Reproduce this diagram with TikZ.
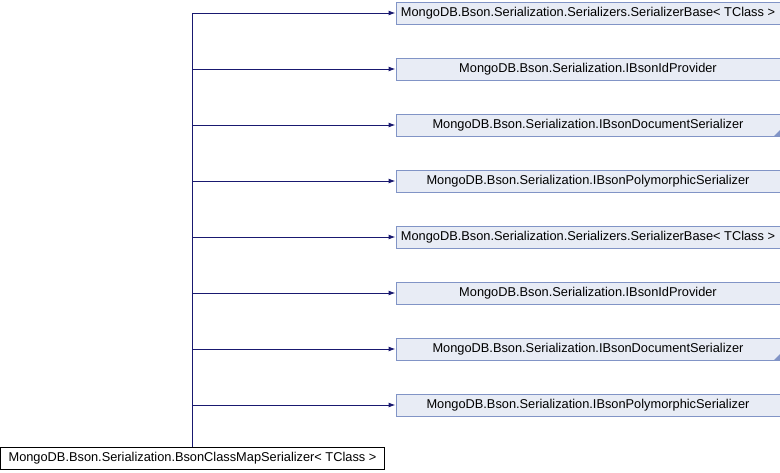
\documentclass[tikz,border=0pt]{standalone}
\usepackage{fontspec}
\setmainfont{Liberation Sans}
\usetikzlibrary{arrows.meta,calc}
\definecolor{edgecol}{HTML}{191970}
\definecolor{boxfill}{HTML}{E8ECF5}
\definecolor{boxdraw}{HTML}{8194C6}
\begin{document}
\begin{tikzpicture}[x=1pt,y=-1pt,
  base/.style={draw=boxdraw, fill=boxfill, line width=1pt, minimum width=384pt, minimum height=22pt, inner sep=0pt, font=\fontsize{12.8}{14}\selectfont, anchor=west},
  mainbox/.style={draw=black, fill=white, line width=1pt, minimum width=384pt, minimum height=22pt, inner sep=0pt, font=\fontsize{12.8}{14}\selectfont},
  inh/.style={draw=edgecol, line width=1pt, -{Latex[length=7pt,width=5pt]}}]
\useasboundingbox (0,0) rectangle (780,472);
\node[mainbox] (m) at (192.5,458.5) {MongoDB.Bson.Serialization.BsonClassMapSerializer< TClass >};
\foreach \n/\y/\t in {a/13/{MongoDB.Bson.Serialization.Serializers.SerializerBase< TClass >},
  b/69/{MongoDB.Bson.Serialization.IBsonIdProvider},
  c/125/{MongoDB.Bson.Serialization.IBsonDocumentSerializer},
  d/181/{MongoDB.Bson.Serialization.IBsonPolymorphicSerializer},
  e/237/{MongoDB.Bson.Serialization.Serializers.SerializerBase< TClass >},
  f/293/{MongoDB.Bson.Serialization.IBsonIdProvider},
  g/349/{MongoDB.Bson.Serialization.IBsonDocumentSerializer},
  h/405/{MongoDB.Bson.Serialization.IBsonPolymorphicSerializer}}{
  \node[base] (\n) at (395.5,\y) {\t};
}
\foreach \n in {c,g}{
  \fill[boxdraw] ($(\n.south east)+(-0.5,-0.5)$) -- ++(0,-6) -- ++(-6,6) -- cycle;
}
\coordinate (top) at (192,13);
\draw[edgecol, line width=1pt] (m.north -| top) -- (top);
\foreach \n in {a,b,c,d,e,f,g,h}{
  \draw[inh] (\n.west -| top) -- (\n.west);
}
\end{tikzpicture}
\end{document}
